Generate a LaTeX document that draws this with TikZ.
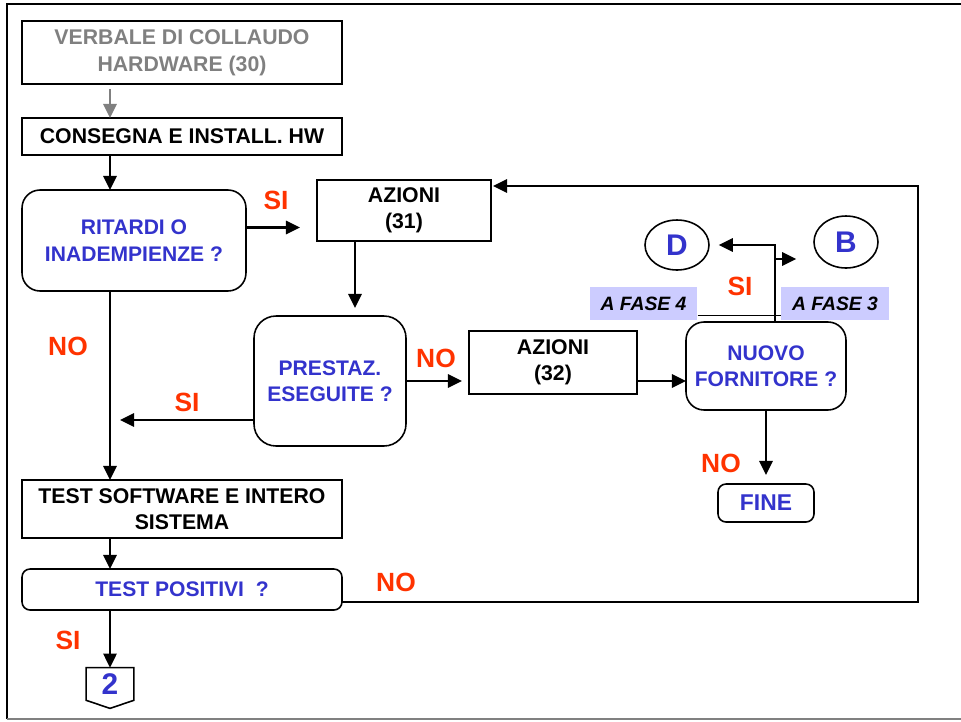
\documentclass[tikz,border=0pt]{standalone}
\usepackage{fontspec}
\setmainfont{Liberation Sans}
\usetikzlibrary{arrows.meta,shapes.geometric}
\definecolor{qblue}{RGB}{51,51,204}
\definecolor{ansred}{RGB}{255,51,0}
\definecolor{lavender}{RGB}{204,204,255}

\begin{document}
\begin{tikzpicture}[x=0.02cm,y=-0.02cm,
  box/.style={draw,line width=0.9pt,inner sep=0pt,outer sep=0pt,align=center,
    font=\fontsize{12.1}{15}\selectfont\bfseries},
  qbox/.style={box,rounded corners=0.36cm,text=qblue,font=\fontsize{12}{15}\selectfont\bfseries},
  ans/.style={text=ansred,font=\fontsize{15}{17}\selectfont\bfseries},
  fase/.style={fill=lavender,inner sep=0pt,minimum width=2.15cm,minimum height=0.66cm,
    font=\fontsize{11}{13}\selectfont\bfseries\itshape},
  circ/.style={draw,ellipse,line width=0.9pt,inner sep=0pt,text=qblue,
    font=\fontsize{17}{20}\selectfont\bfseries},
  arr/.style={line width=1.4pt,-{Triangle[length=8pt,width=7.5pt]}}]
\useasboundingbox (0,0) rectangle (961,721);
% frame
\draw[line width=1.4pt] (7,719) -- (7,4) -- (961,4);
\draw[line width=1pt,gray] (7,719) -- (961,719);

\coordinate (spine) at (110,0);

% left column
\node[box,text=gray,minimum width=6.4cm,minimum height=1.26cm,
  font=\fontsize{12.1}{15.5}\selectfont\bfseries] (verbale) at (182,52.5) {VERBALE DI COLLAUDO\\HARDWARE (30)};
\node[box,minimum width=6.4cm,minimum height=0.74cm] (consegna) at (182,136.5) {CONSEGNA E INSTALL. HW};
\node[qbox,minimum width=4.48cm,minimum height=2.02cm] (ritardi) at (134,240.5) {RITARDI O\\INADEMPIENZE ?};
\node[box,minimum width=6.4cm,minimum height=1.16cm] (testsw) at (182,509) {TEST SOFTWARE E INTERO\\SISTEMA};
\node[qbox,rounded corners=0.16cm,minimum width=6.4cm,minimum height=0.82cm] (testpos) at (182,589.5) {TEST POSITIVI~~?};
\node[inner sep=0pt,minimum width=0.94cm,minimum height=0.64cm,text=qblue,
  font=\fontsize{17}{20}\selectfont\bfseries] (due) at (110,684) {2};
\draw[line width=0.9pt] (due.north west) -- (due.north east) -- (due.south east)
  -- ([yshift=-0.16cm]due.south) -- (due.south west) -- cycle;

% middle
\node[box,minimum width=3.48cm,minimum height=1.22cm] (azioni31) at (404,210.5) {AZIONI\\(31)};
\node[qbox,rounded corners=0.44cm,minimum width=3.04cm,minimum height=2.6cm] (prestaz) at (330,381) {PRESTAZ.\\ESEGUITE ?};
\node[box,minimum width=3.36cm,minimum height=1.26cm] (azioni32) at (553,362.5) {AZIONI\\(32)};

% right
\node[qbox,minimum width=3.2cm,minimum height=1.76cm] (nuovo) at (766,366) {NUOVO\\FORNITORE ?};
\node[qbox,rounded corners=0.16cm,minimum width=1.92cm,minimum height=0.76cm,
  font=\fontsize{13}{15}\selectfont\bfseries] (fine) at (766,503) {FINE};
\node[circ,minimum width=1.28cm,minimum height=1cm] (dcirc) at (677,245) {D};
\node[circ,minimum width=1.28cm,minimum height=1.04cm] (bcirc) at (846,242) {B};
\node[fase] (fase4) at (643.5,303.5) {A FASE 4};
\node[fase] (fase3) at (835,303.5) {A FASE 3};
\draw[line width=1pt] ([yshift=-0.24cm]fase4.east) -- ([yshift=-0.24cm]fase3.west);

% answers
\node[ans] (si1) at (276,200) {SI};
\node[ans] (no1) at (68,346) {NO};
\node[ans] (no2) at (436,358) {NO};
\node[ans] (si2) at (187,402) {SI};
\node[ans] (si3) at (740,286) {SI};
\node[ans] (no3) at (721,463) {NO};
\node[ans] (no4) at (396,582) {NO};
\node[ans] (si4) at (68,640) {SI};

% connectors
\draw[arr,gray,shorten <=0.1cm] (spine |- verbale.south) -- (spine |- consegna.north);
\draw[arr] (spine |- consegna.south) -- (spine |- ritardi.north);
\draw[arr] (spine |- ritardi.south) -- (spine |- testsw.north);
\draw[arr] (spine |- testsw.south) -- (spine |- testpos.north);
\draw[arr] (spine |- testpos.south) -- (due.north);

\draw[arr,shorten >=0.34cm] ([yshift=0.26cm]ritardi.east) -- ([yshift=0.26cm]ritardi.east -| azioni31.west);
\draw[arr,shorten >=0.16cm] ([xshift=-0.98cm]azioni31.south) -- ([xshift=-0.98cm]azioni31.south |- prestaz.north);
\draw[arr,shorten >=0.14cm] (prestaz.east) -- (prestaz.east -| azioni32.west);
\draw[arr] (prestaz.east -| azioni32.east) -- (prestaz.east -| nuovo.west);
\draw[arr,shorten >=0.2cm] ([yshift=-0.78cm]prestaz.west) -- ([yshift=-0.78cm]prestaz.west -| spine);
\draw[arr,shorten >=0.18cm] (nuovo.south) -- (fine.north);

\coordinate (jn) at (775,259);
\draw[arr,shorten >=0.18cm] ([xshift=0.18cm]nuovo.north) |- (dcirc.east);
\draw[arr,shorten >=0.34cm] (jn) -- (jn -| bcirc.west);

\coordinate (loopa) at (918,602);
\coordinate (loopb) at (918,186);
\draw[arr,shorten >=0.04cm] (testpos.east |- loopa) -- (loopa) -- (loopb) -- (loopb -| azioni31.east);
\end{tikzpicture}
\end{document}
